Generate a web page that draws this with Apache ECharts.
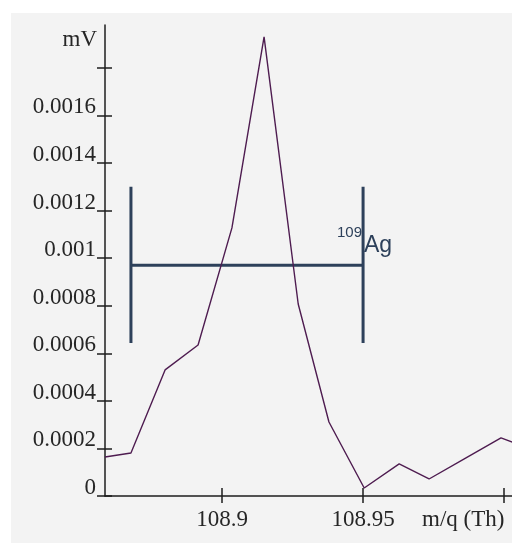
<!DOCTYPE html>
<html>
<head>
<meta charset="utf-8">
<script src="https://cdn.jsdelivr.net/npm/echarts@6/dist/echarts.min.js"></script>
<style>
html,body{margin:0;padding:0;background:#ffffff;}
#chart{width:512px;height:543px;}
</style>
</head>
<body>
<div id="chart"></div>
<script>
// m/q (Th) positions of the measured points
const mz = [108.8585,108.8677,108.8798,108.8915,108.9035,108.9149,108.9270,108.9379,108.9504,108.9628,108.9734,108.9865,108.9989,109.0113];
// signal (mV)
const mv = [0.000164,0.000181,0.000530,0.000635,0.001127,0.00193,0.000807,0.000311,0.0000336,0.000135,0.0000715,0.00016,0.000244,0.00019];

// 109Ag marker (horizontal bar ends, centre level, vertical bar range)
const agX = [108.8677, 108.95];
const agY = 0.00097;
const agYRange = [0.000643, 0.0013];

// axis ticks and labels
const yTicks = [0,0.0002,0.0004,0.0006,0.0008,0.001,0.0012,0.0014,0.0016,0.0018];
const yTickLabels = ['0','0.0002','0.0004','0.0006','0.0008','0.001','0.0012','0.0014','0.0016',''];
const xTicks = [108.9,108.95,109.0];
const xTickLabels = ['108.9','108.95',''];
const xRange = [108.8585, 109.0028];
const yRange = [0, 0.00198];

const serif = 'Liberation Serif';
const txtColor = '#262626';
const axisColor = '#1e1e1e';
const barColor = '#2d405a';

const chart = echarts.init(document.getElementById('chart'));

function lblFromList(ticks, labels){
  return function(v){
    for (let i=0;i<ticks.length;i++){ if (Math.abs(ticks[i]-v) < 1e-9) return labels[i]; }
    return '';
  };
}

const option = {
  animation:false,
  backgroundColor:'#ffffff',
  grid:{left:105,right:0,top:25,bottom:47,containLabel:false,outerBoundsMode:'none'},
  graphic:[
    {type:'rect',z:-10,silent:true,shape:{x:11,y:13,width:501,height:530},style:{fill:'#f3f3f3'}},
    {type:'text',x:97,y:40,style:{text:'mV',font:'23px "Liberation Serif"',fill:txtColor,textAlign:'right',textVerticalAlign:'middle'}},
    {type:'text',x:422,y:520,style:{text:'m/q (Th)',font:'23px "Liberation Serif"',fill:txtColor,textAlign:'left',textVerticalAlign:'middle'}},
    {type:'text',x:362,y:233,style:{text:'109',font:'15px "Liberation Sans"',fill:barColor,textAlign:'right',textVerticalAlign:'middle'}},
    {type:'text',x:364,y:246,style:{text:'Ag',font:'23px "Liberation Sans"',fill:barColor,textAlign:'left',textVerticalAlign:'middle'}}
  ],
  xAxis:[
    {type:'value',min:xRange[0],max:xRange[1],
     axisLine:{show:true,onZero:false,lineStyle:{color:axisColor,width:1.5}},
     splitLine:{show:false},
     axisTick:{show:true,customValues:xTicks,length:7,lineStyle:{color:axisColor,width:1.5}},
     axisLabel:{customValues:xTicks,formatter:lblFromList(xTicks,xTickLabels),fontFamily:serif,fontSize:23,color:txtColor,margin:12}
    },
    {type:'value',min:xRange[0],max:xRange[1],position:'bottom',
     axisLine:{show:false,onZero:false},splitLine:{show:false},
     axisTick:{show:true,inside:true,customValues:xTicks,length:8,lineStyle:{color:axisColor,width:1.5}},
     axisLabel:{show:false}
    }
  ],
  yAxis:[
    {type:'value',min:yRange[0],max:yRange[1],
     axisLine:{show:true,onZero:false,lineStyle:{color:axisColor,width:1.5}},
     splitLine:{show:false},
     axisTick:{show:true,customValues:yTicks,length:8,lineStyle:{color:axisColor,width:1.5}},
     axisLabel:{customValues:yTicks,formatter:lblFromList(yTicks,yTickLabels),fontFamily:serif,fontSize:23,color:txtColor,margin:9,verticalAlign:'bottom',lineHeight:16}
    },
    {type:'value',min:yRange[0],max:yRange[1],position:'left',
     axisLine:{show:false,onZero:false},splitLine:{show:false},
     axisTick:{show:true,inside:true,customValues:yTicks,length:7,lineStyle:{color:axisColor,width:1.5}},
     axisLabel:{show:false}
    }
  ],
  series:[
    {type:'line',data:mz.map((x,i)=>[x,mv[i]]),showSymbol:false,symbol:'none',
     lineStyle:{color:'#4e1c50',width:1.4},clip:true,z:3},
    {type:'line',data:[[agX[0],agY],[agX[1],agY]],symbol:'none',lineStyle:{color:barColor,width:3},z:2},
    {type:'line',data:[[agX[0],agYRange[0]],[agX[0],agYRange[1]]],symbol:'none',lineStyle:{color:barColor,width:3},z:2},
    {type:'line',data:[[agX[1],agYRange[0]],[agX[1],agYRange[1]]],symbol:'none',lineStyle:{color:barColor,width:3},z:2}
  ]
};
chart.setOption(option);
</script>
</body>
</html>
